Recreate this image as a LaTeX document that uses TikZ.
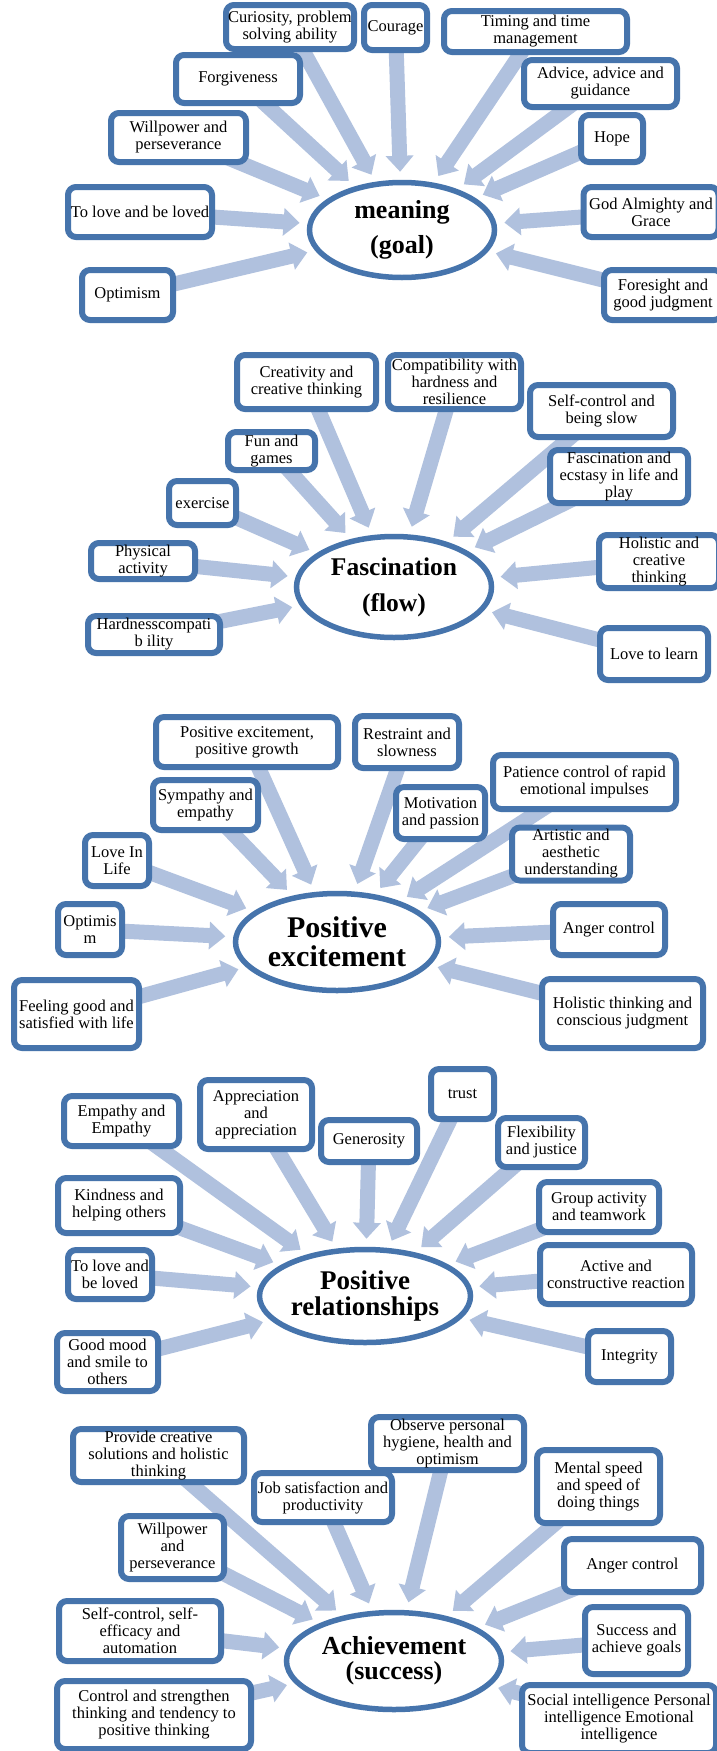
\documentclass[tikz,border=0pt]{standalone}
\usepackage{fontspec}
\setmainfont{Liberation Serif}
\usetikzlibrary{arrows.meta,shapes.geometric}
\pgfdeclarelayer{bg}
\pgfsetlayers{bg,main}
\definecolor{boxblue}{RGB}{70,116,172}
\definecolor{arrowblue}{RGB}{176,193,222}
\tikzset{
  box/.style={draw=boxblue, line width=6pt, rounded corners=8pt, fill=white, align=center, inner sep=2pt, font=\fontsize{16.5}{17}\selectfont},
  hub/.style={ellipse, draw=boxblue, line width=5.5pt, fill=white, align=center, inner sep=0pt},
  arr/.style={draw=arrowblue, line width=15pt, -{Triangle[width=27pt,length=16pt]}, shorten >=8pt},
}
\begin{document}
\begin{tikzpicture}[x=1pt,y=-1pt]
\useasboundingbox (0,0) rectangle (717,1751);
% ---------- Section 1: meaning ----------
\node[hub, minimum width=185, minimum height=95, font=\fontsize{26}{35}\selectfont\bfseries] (e1) at (402,230) {meaning\\(goal)};
\node[box, minimum width=128, minimum height=44] (a1) at (290,27) {Curiosity, problem\\solving ability};
\node[box, minimum width=63, minimum height=45] (a2) at (395.5,27.5) {Courage};
\node[box, minimum width=183, minimum height=41] (a3) at (535.5,31.5) {Timing and time\\management};
\node[box, minimum width=124, minimum height=48] (a4) at (238,79) {Forgiveness};
\node[box, minimum width=153, minimum height=47] (a5) at (600.5,83.5) {Advice, advice and\\guidance};
\node[box, minimum width=135, minimum height=49] (a6) at (178.5,137.5) {Willpower and\\perseverance};
\node[box, minimum width=62, minimum height=47] (a7) at (612,138.5) {Hope};
\node[box, minimum width=144, minimum height=50] (a8) at (140,212) {To love and be loved};
\node[box, minimum width=135, minimum height=50] (a9) at (651,212) {God Almighty and\\Grace};
\node[box, minimum width=91, minimum height=50] (a10) at (127.5,295) {Optimism};
\node[box, minimum width=118, minimum height=50] (a11) at (663,295) {Foresight and\\good judgment};
% ---------- Section 2: Fascination ----------
\node[hub, minimum width=195, minimum height=101, font=\fontsize{25.5}{36}\selectfont\bfseries] (e2) at (394,587) {Fascination\\(flow)};
\node[box, minimum width=139, minimum height=54] (b1) at (306.5,382) {Creativity and\\creative thinking};
\node[box, minimum width=133, minimum height=54] (b2) at (454.5,382) {Compatibility with\\hardness and\\resilience};
\node[box, minimum width=143, minimum height=52] (b3) at (601.5,411) {Self-control and\\being slow};
\node[box, minimum width=87, minimum height=38] (b4) at (271.5,451) {Fun and\\games};
\node[box, minimum width=138, minimum height=53] (b5) at (619,476.5) {Fascination and\\ecstasy in life and\\play};
\node[box, minimum width=67, minimum height=44] (b6) at (202.5,503) {exercise};
\node[box, minimum width=104, minimum height=36] (b7) at (143,561) {Physical\\activity};
\node[box, minimum width=120, minimum height=53] (b8) at (659,561.5) {Holistic and\\creative\\thinking};
\node[box, minimum width=132, minimum height=37] (b9) at (154,634.5) {Hardnesscompati\\b ility};
\node[box, minimum width=108, minimum height=52] (b10) at (654,654) {Love to learn};
% ---------- Section 3: Positive excitement ----------
\node[hub, minimum width=203, minimum height=97, font=\fontsize{30}{29}\selectfont\bfseries] (e3) at (337,942) {Positive\\excitement};
\node[box, minimum width=182, minimum height=50] (c1) at (247,742) {Positive excitement,\\positive growth};
\node[box, minimum width=104, minimum height=52] (c2) at (407,742) {Restraint and\\slowness};
\node[box, minimum width=183, minimum height=54] (c3) at (584.5,782) {Patience control of rapid\\emotional impulses};
\node[box, minimum width=105, minimum height=50] (c4) at (205.5,805) {Sympathy and\\empathy};
\node[box, minimum width=89, minimum height=52] (c5) at (440.5,813) {Motivation\\and passion};
\node[box, minimum width=118, minimum height=50] (c6) at (571,854) {Artistic and\\aesthetic\\understanding};
\node[box, minimum width=64, minimum height=51] (c7) at (117,860.5) {Love In\\Life};
\node[box, minimum width=64, minimum height=51] (c8) at (90,929.5) {Optimis\\m};
\node[box, minimum width=112, minimum height=51] (c9) at (609,929.5) {Anger control};
\node[box, minimum width=125, minimum height=68] (c10) at (76.5,1014) {Feeling good and\\satisfied with life};
\node[box, minimum width=161, minimum height=69] (c11) at (622.5,1013.5) {Holistic thinking and\\conscious judgment};
% ---------- Section 4: Positive relationships ----------
\node[hub, minimum width=211, minimum height=93, font=\fontsize{27}{26}\selectfont\bfseries] (e4) at (365,1296) {Positive\\relationships};
\node[box, minimum width=115, minimum height=50] (d1) at (121.5,1121) {Empathy and\\Empathy};
\node[box, minimum width=112, minimum height=69] (d2) at (256,1114.5) {Appreciation\\and\\appreciation};
\node[box, minimum width=96, minimum height=42] (d3) at (369,1141) {Generosity};
\node[box, minimum width=63, minimum height=50] (d4) at (462.5,1094) {trust};
\node[box, minimum width=87, minimum height=49] (d5) at (541.5,1142.5) {Flexibility\\and justice};
\node[box, minimum width=122, minimum height=55] (d6) at (119,1205.5) {Kindness and\\helping others};
\node[box, minimum width=120, minimum height=50] (d7) at (599,1207) {Group activity\\and teamwork};
\node[box, minimum width=84, minimum height=49] (d8) at (110,1274.5) {To love and\\be loved};
\node[box, minimum width=152, minimum height=59] (d9) at (616,1274.5) {Active and\\constructive reaction};
\node[box, minimum width=101, minimum height=58] (d10) at (107.5,1362) {Good mood\\and smile to\\others};
\node[box, minimum width=83, minimum height=51] (d11) at (629.5,1356.5) {Integrity};
% ---------- Section 5: Achievement ----------
\node[hub, minimum width=215, minimum height=97, font=\fontsize{26}{25}\selectfont\bfseries] (e5) at (394,1661) {Achievement\\(success)};
\node[box, minimum width=171, minimum height=51] (f1) at (158.5,1455.5) {Provide creative\\solutions and holistic\\thinking};
\node[box, minimum width=138, minimum height=49] (f2) at (323,1497.5) {Job satisfaction and\\productivity};
\node[box, minimum width=153, minimum height=51] (f3) at (447.5,1443.5) {Observe personal\\hygiene, health and\\optimism};
\node[box, minimum width=123, minimum height=73] (f4) at (598.5,1486.5) {Mental speed\\and speed of\\doing things};
\node[box, minimum width=103, minimum height=63] (f5) at (172.5,1547.5) {Willpower\\and\\perseverance};
\node[box, minimum width=137, minimum height=53] (f6) at (632.5,1565.5) {Anger control};
\node[box, minimum width=162, minimum height=60] (f7) at (140,1631) {Self-control, self-\\efficacy and\\automation};
\node[box, minimum width=103, minimum height=67] (f8) at (636.5,1640.5) {Success and\\achieve goals};
\node[box, minimum width=194, minimum height=68] (f9) at (154,1715) {Control and strengthen\\thinking and tendency to\\positive thinking};
\node[box, minimum width=194, minimum height=68] (f10) at (619,1719) {Social intelligence Personal\\intelligence Emotional\\intelligence};
% ---------- Arrows ----------
\begin{pgfonlayer}{bg}
\fill[white] (0,0) rectangle (717,1751);
\foreach \n in {a1,a2,a3,a4,a5,a6,a7,a8,a9,a10,a11} \draw[arr] (\n.center) -- (e1);
\foreach \n in {b1,b2,b3,b4,b5,b6,b7,b8,b9,b10} \draw[arr] (\n.center) -- (e2);
\foreach \n in {c1,c2,c3,c4,c5,c6,c7,c8,c9,c10,c11} \draw[arr] (\n.center) -- (e3);
\foreach \n in {d1,d2,d3,d4,d5,d6,d7,d8,d9,d10,d11} \draw[arr] (\n.center) -- (e4);
\foreach \n in {f1,f2,f3,f4,f5,f6,f7,f8,f9,f10} \draw[arr] (\n.center) -- (e5);
\end{pgfonlayer}
\end{tikzpicture}
\end{document}
